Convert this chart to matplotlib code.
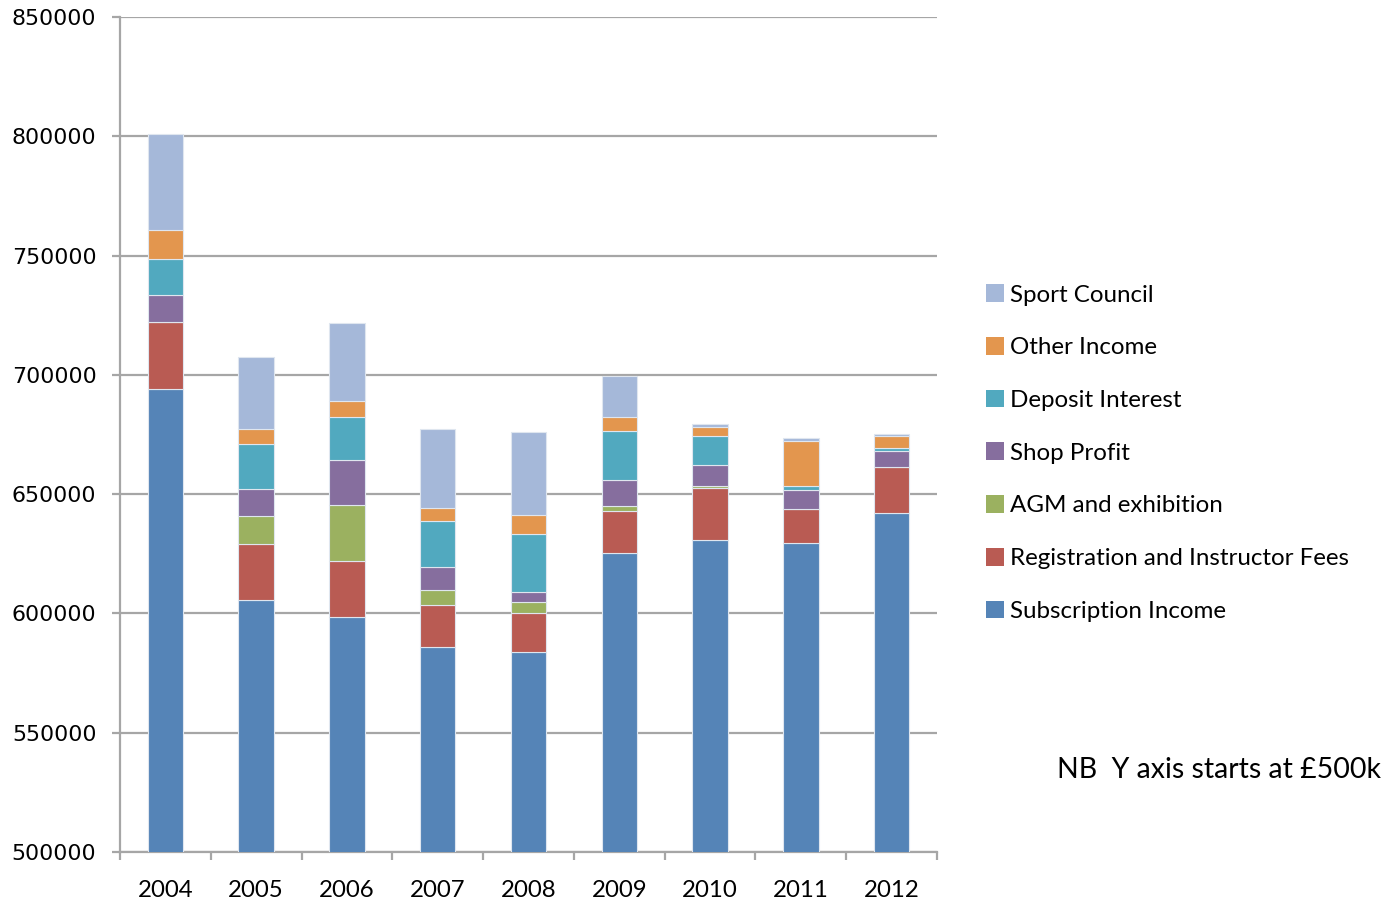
import matplotlib.pyplot as plt
import numpy as np
from matplotlib.patches import Patch

years = ['2004', '2005', '2006', '2007', '2008', '2009', '2010', '2011', '2012']

# income components (GBP), bottom to top
subscription = [694200, 605600, 598400, 585800, 583700, 625200, 630900, 629600, 642200]
registration = [27800, 23600, 23700, 17800, 16500, 17700, 21800, 14300, 19300]
agm_exhibition = [0, 11600, 23500, 6200, 4400, 2000, 600, 0, 0]
shop_profit = [11300, 11200, 18600, 9800, 4200, 10900, 9000, 7900, 6400]
deposit_interest = [15100, 18900, 18200, 19300, 24300, 20500, 12200, 1700, 1300]
other_income = [12400, 6400, 6600, 5100, 8000, 6100, 3800, 18900, 5100]
sport_council = [40100, 30000, 32700, 33300, 34800, 17200, 1200, 1100, 700]

series = [
    ('Subscription Income', subscription, '#5584B7'),
    ('Registration and Instructor Fees', registration, '#B95B53'),
    ('AGM and exhibition', agm_exhibition, '#9BB160'),
    ('Shop Profit', shop_profit, '#866E9E'),
    ('Deposit Interest', deposit_interest, '#51A9BF'),
    ('Other Income', other_income, '#E3964E'),
    ('Sport Council', sport_council, '#A5B8D9'),
]

fig = plt.figure(figsize=(13.89, 9.02), dpi=100)
ax = fig.add_axes([0.0864, 0.0554, 0.5882, 0.9258])

x = np.arange(len(years))
bottom = np.zeros(len(years))
for name, vals, col in series:
    vals = np.array(vals, dtype=float)
    ax.bar(x, vals, 0.39, bottom=bottom, color=col, edgecolor='#dfe6ef',
           linewidth=0.8, label=name, zorder=3)
    bottom += vals

ax.set_ylim(500000, 850000)
ax.set_xlim(-0.5, len(years) - 0.5)
ax.set_yticks(np.arange(500000, 850001, 50000))
ax.set_yticklabels([str(v) for v in range(500000, 850001, 50000)],
                   fontsize=15.9, family='DejaVu Sans')
ax.yaxis.grid(True, color='#a6a6a6', linewidth=1.6, zorder=0)

ax.set_xticks(x)
ax.set_xticklabels(years, fontsize=17.3, family='Lato')
ax.set_xticks(np.arange(-0.5, len(years)), minor=True)
ax.tick_params(axis='x', which='major', length=0, pad=20)
ax.tick_params(axis='x', which='minor', length=6, width=1.6, color='#a6a6a6', direction='out')
ax.tick_params(axis='y', length=6, width=1.6, color='#a6a6a6', direction='out', pad=11)

for s in ['top', 'right']:
    ax.spines[s].set_visible(False)
for s in ['left', 'bottom']:
    ax.spines[s].set_color('#a6a6a6')
    ax.spines[s].set_linewidth(1.6)

handles = [Patch(facecolor=col, edgecolor='none', label=name) for name, vals, col in series[::-1]]
fig.legend(handles=handles, loc='upper left', bbox_to_anchor=(0.703, 0.6955), frameon=False,
           prop={'family': 'Lato', 'size': 17.4}, handlelength=0.75, handleheight=0.75,
           handletextpad=0.25, labelspacing=1.3, borderaxespad=0)

fig.text(0.994, 0.146, 'NB  Y axis starts at £500k', ha='right', va='center',
         fontsize=20.5, family='Lato')

fig.savefig('out.png', dpi=100, facecolor='white')
